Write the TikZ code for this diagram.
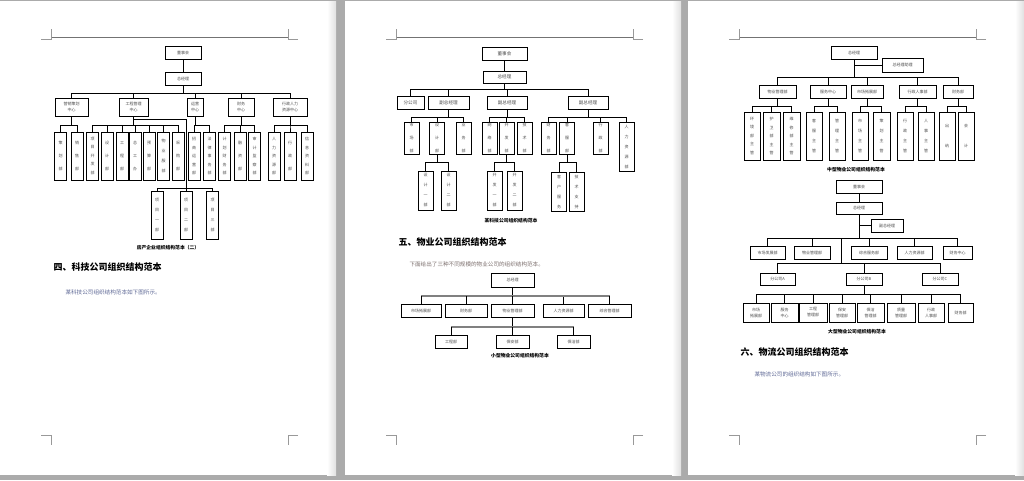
\documentclass[tikz,border=0pt]{standalone}
\usepackage{fontspec}
\setmainfont{Noto Sans CJK SC}
\begin{document}
\begin{tikzpicture}[x=1pt,y=-1pt,
  orgbox/.style={draw=black,line width=.8pt,fill=white,inner sep=0pt,text=black!70,align=center},
  hbox/.style={orgbox,font=\fontsize{4}{6}\selectfont},
  hboxl/.style={orgbox,font=\fontsize{4.6}{6}\selectfont},
  lead2/.style={orgbox,font=\fontsize{4}{20}\selectfont},
  lead3/.style={orgbox,font=\fontsize{4}{13}\selectfont},
  lead4/.style={orgbox,font=\fontsize{4}{10}\selectfont},
  lead5/.style={orgbox,font=\fontsize{4}{8.5}\selectfont},
  lnk/.style={line width=.7pt},
  gbus/.style={draw=black!50,line width=1.3pt},
  caption/.style={font=\bfseries\fontsize{4.8}{5}\selectfont},
  heading/.style={anchor=west,font=\bfseries\fontsize{9}{10}\selectfont},
  bodytext/.style={anchor=west,font=\fontsize{5.6}{6}\selectfont},
  pagemark/.style={draw=black!40,line width=.6pt}]
\useasboundingbox (0,0) rectangle (1024,480);
% pages
\fill[black!33] (0,0) rectangle (1024,480);
\foreach \ox in {0,345,688} {
  \fill[white] (\ox,1) rectangle (\ox+336,475);
  \shade[left color=white,right color=black!12] (\ox+327,1) rectangle (\ox+336,475);
  \draw[pagemark,draw=black!55] (\ox+51,37) -- (\ox+288,37);
  \draw[pagemark] (\ox+41,39) -- (\ox+51,39) -- (\ox+51,29);
  \draw[pagemark] (\ox+298,39) -- (\ox+288,39) -- (\ox+288,29);
  \draw[pagemark] (\ox+41,435) -- (\ox+51,435) -- (\ox+51,445);
  \draw[pagemark] (\ox+298,435) -- (\ox+288,435) -- (\ox+288,445);
}

% page 1
\node[hbox, minimum width=36, minimum height=13] (p1dsh) at (183,52.5) {董事会};
\node[hbox, minimum width=36, minimum height=13] (p1zjl) at (183,78.5) {总经理};
\node[hbox, minimum width=33, minimum height=18] (p1yx) at (71.5,107) {营销策划\\中心};
\node[hbox, minimum width=29, minimum height=18] (p1gc) at (133.5,107) {工程管理\\中心};
\node[hbox, minimum width=16, minimum height=18] (p1yy) at (195,107) {运营\\中心};
\node[hbox, minimum width=26, minimum height=18] (p1cw) at (241,107) {财务\\中心};
\node[hbox, minimum width=34, minimum height=18] (p1xz) at (290,107) {行政人力\\资源中心};
\node[lead3, minimum width=12, minimum height=48] (p1a1) at (60.5,156) {策\\划\\部};
\node[lead3, minimum width=12, minimum height=48] (p1a2) at (77,156) {销\\售\\部};
\node[lead5, minimum width=12, minimum height=48] (p1b1) at (92.5,156) {项\\目\\开\\发\\部};
\node[lead3, minimum width=12, minimum height=48] (p1b2) at (107,156) {设\\计\\部};
\node[lead3, minimum width=12, minimum height=48] (p1b3) at (122,156) {工\\程\\部};
\node[lead3, minimum width=12, minimum height=48] (p1b4) at (135,156) {总\\工\\办};
\node[lead3, minimum width=12, minimum height=48] (p1b5) at (149,156) {预\\算\\部};
\node[lead4, minimum width=12, minimum height=48] (p1b6) at (163.5,156) {物\\业\\服\\部};
\node[lead3, minimum width=12, minimum height=48] (p1b7) at (178,156) {采\\购\\部};
\node[lead5, minimum width=12, minimum height=48] (p1c1) at (194,156) {招\\商\\运\\营\\部};
\node[lead5, minimum width=12, minimum height=48] (p1c2) at (209.5,156) {法\\律\\事\\务\\部};
\node[lead5, minimum width=12, minimum height=48] (p1d1) at (224.5,156) {计\\划\\财\\务\\部};
\node[lead3, minimum width=12, minimum height=48] (p1d2) at (240,156) {融\\资\\部};
\node[lead5, minimum width=12, minimum height=48] (p1d3) at (254.5,156) {审\\计\\监\\察\\部};
\node[lead5, minimum width=12, minimum height=48] (p1e1) at (274,156) {人\\力\\资\\源\\部};
\node[lead3, minimum width=12, minimum height=48] (p1e2) at (290,156) {行\\政\\部};
\node[lead5, minimum width=12, minimum height=48] (p1e3) at (307,156) {信\\息\\资\\料\\部};
\node[lead4, minimum width=12, minimum height=48] (p1f1) at (157,215) {项\\目\\一\\部};
\node[lead4, minimum width=12, minimum height=48] (p1f2) at (186,215) {项\\目\\二\\部};
\node[lead4, minimum width=12, minimum height=48] (p1f3) at (212.5,215) {项\\目\\三\\部};
\coordinate (p1bus) at (0,93);
\coordinate (p1sb) at (0,125);
\coordinate (p1j) at (186,119);
\coordinate (p1lb) at (186,188);
\draw[lnk] (p1dsh) -- (p1zjl);
\foreach \c in {p1yx,p1gc,p1yy,p1cw,p1xz}
  \draw[lnk] (p1zjl.south) -- (p1zjl.south |- p1bus) -| (\c.north);
\foreach \c in {p1a1,p1a2}
  \draw[lnk] (p1yx.south) -- (p1yx.south |- p1sb) -| (\c.north);
\foreach \c in {p1b1,p1b2,p1b3,p1b4,p1b5,p1b6,p1b7}
  \draw[lnk] (p1gc.south) -- (p1gc.south |- p1sb) -| (\c.north);
\foreach \c in {p1c1,p1c2}
  \draw[lnk] (p1yy.south) -- (p1yy.south |- p1sb) -| (\c.north);
\foreach \c in {p1d1,p1d2,p1d3}
  \draw[lnk] (p1cw.south) -- (p1cw.south |- p1sb) -| (\c.north);
\foreach \c in {p1e1,p1e2,p1e3}
  \draw[lnk] (p1xz.south) -- (p1xz.south |- p1sb) -| (\c.north);
\draw[lnk] (p1gc.south) |- (p1j) -- (p1lb);
\foreach \c in {p1f1,p1f2,p1f3}
  \draw[lnk] (p1lb) -| (\c.north);
\node[caption] (p1cap) at (168,248) {房产企业组织结构范本（二）};
\node[heading] (p1h) at (50,267) {四、科技公司组织结构范本};
\node[bodytext, text={rgb,255:red,95;green,105;blue,150}] (p1t) at (62,292) {某科技公司组织结构范本如下图所示。};

% page 2
\node[hboxl, minimum width=45, minimum height=13] (p2dsh) at (504.5,53.5) {董事会};
\node[hboxl, minimum width=43, minimum height=12] (p2zjl) at (504.5,77) {总经理};
\node[hboxl, minimum width=27, minimum height=13] (p2fgs) at (410.5,102.5) {分公司};
\node[hboxl, minimum width=41, minimum height=13] (p2fz1) at (448.5,102.5) {副总经理};
\node[hboxl, minimum width=40, minimum height=13] (p2fz2) at (507,102.5) {副总经理};
\node[hboxl, minimum width=40, minimum height=13] (p2fz3) at (588,102.5) {副总经理};
\node[lead3, minimum width=15, minimum height=32] (p2a1) at (411.5,138) {市\\场\\部};
\node[lead3, minimum width=15, minimum height=32] (p2a2) at (437,138) {设\\计\\部};
\node[lead3, minimum width=15, minimum height=32] (p2a3) at (463.5,138) {业\\务\\部};
\node[lead3, minimum width=15, minimum height=32] (p2b1) at (489.5,138) {网\\络\\部};
\node[lead3, minimum width=15, minimum height=32] (p2b2) at (506.5,138) {开\\发\\部};
\node[lead3, minimum width=15, minimum height=32] (p2b3) at (524.5,138) {技\\术\\部};
\node[lead3, minimum width=15, minimum height=32] (p2c1) at (548.5,138) {财\\务\\部};
\node[lead3, minimum width=15, minimum height=32] (p2c2) at (567,138) {客\\服\\部};
\node[lead3, minimum width=15, minimum height=32] (p2c3) at (600.5,138) {行\\政\\部};
\node[lead4, minimum width=15, minimum height=49] (p2c4) at (626.5,146.5) {人\\力\\资\\源\\部};
\node[lead4, minimum width=15, minimum height=39] (p2d1) at (425.5,190.5) {设\\计\\一\\部};
\node[lead4, minimum width=15, minimum height=39] (p2d2) at (448.5,190.5) {设\\计\\二\\部};
\node[lead4, minimum width=15, minimum height=39] (p2e1) at (494.5,190.5) {开\\发\\一\\部};
\node[lead4, minimum width=15, minimum height=39] (p2e2) at (514.5,190.5) {开\\发\\二\\部};
\node[lead4, minimum width=15, minimum height=39] (p2f1) at (559,191.5) {客\\户\\服\\务};
\node[lead4, minimum width=15, minimum height=39] (p2f2) at (576.5,191.5) {技\\术\\支\\持};
\coordinate (p2bus) at (0,89);
\coordinate (p2sb) at (0,117);
\coordinate (p2sb2) at (0,162);
\draw[lnk] (p2dsh) -- (p2zjl);
\foreach \c in {p2fgs,p2fz1,p2fz2,p2fz3}
  \draw[lnk] (p2zjl.south) -- (p2zjl.south |- p2bus) -| (\c.north);
\foreach \c in {p2a1,p2a2,p2a3}
  \draw[lnk] (p2fz1.south) -- (p2fz1.south |- p2sb) -| (\c.north);
\foreach \c in {p2b1,p2b2,p2b3}
  \draw[lnk] (p2fz2.south) -- (p2fz2.south |- p2sb) -| (\c.north);
\foreach \c in {p2c1,p2c2,p2c3,p2c4}
  \draw[lnk] (p2fz3.south) -- (p2fz3.south |- p2sb) -| (\c.north);
\foreach \c in {p2d1,p2d2}
  \draw[lnk] (p2a2.south) -- (p2a2.south |- p2sb2) -| (\c.north);
\foreach \c in {p2e1,p2e2}
  \draw[lnk] (p2b2.south) -- (p2b2.south |- p2sb2) -| (\c.north);
\foreach \c in {p2f1,p2f2}
  \draw[lnk] (p2c2.south) -- (p2c2.south |- p2sb2) -| (\c.north);
\node[caption] (p2cap) at (511,221) {某科技公司组织结构范本};
\node[heading] (p2h) at (395,242) {五、物业公司组织结构范本};
\node[bodytext, text={rgb,255:red,125;green,112;blue,110}] (p2t) at (406,264) {下面给出了三种不同规模的物业公司的组织结构范本。};
\node[hbox, minimum width=43, minimum height=14] (p2s0) at (512.5,280) {总经理};
\node[hbox, minimum width=40, minimum height=13] (p2s1) at (421,310.5) {市场拓展部};
\node[hbox, minimum width=42, minimum height=13] (p2s2) at (466,310.5) {财务部};
\node[hbox, minimum width=43, minimum height=13] (p2s3) at (512.5,310.5) {物业管理部};
\node[hbox, minimum width=41, minimum height=13] (p2s4) at (563.5,310.5) {人力资源部};
\node[hbox, minimum width=43, minimum height=13] (p2s5) at (609.5,310.5) {综合管理部};
\node[hbox, minimum width=32, minimum height=13] (p2s6) at (451,341.5) {工程部};
\node[hbox, minimum width=33, minimum height=13] (p2s7) at (512.5,341.5) {保安部};
\node[hbox, minimum width=33, minimum height=13] (p2s8) at (573.5,341.5) {保洁部};
\coordinate (p2gb) at (0,296);
\coordinate (p2gb2) at (0,327);
\draw[lnk] (p2s0.south) -- (p2s0.south |- p2gb);
\foreach \c in {p2s1,p2s2,p2s3,p2s4,p2s5} {
  \draw[gbus] (p2s0.south |- p2gb) -- (\c.north |- p2gb);
  \draw[lnk] (\c.north |- p2gb) -- (\c.north);
}
\draw[lnk] (p2s3.south) -- (p2s3.south |- p2gb2);
\foreach \c in {p2s6,p2s7,p2s8} {
  \draw[gbus] (p2s3.south |- p2gb2) -- (\c.north |- p2gb2);
  \draw[lnk] (\c.north |- p2gb2) -- (\c.north);
}
\node[caption] (p2cap2) at (520,356) {小型物业公司组织结构范本};

% page 3
\node[hbox, minimum width=46, minimum height=13] (p3zjl) at (854,52.5) {总经理};
\node[hbox, minimum width=41, minimum height=14] (p3zl) at (902.5,65) {总经理助理};
\node[hbox, minimum width=37, minimum height=13] (p3a) at (777.5,91.5) {物业管理部};
\node[hbox, minimum width=36, minimum height=13] (p3b) at (828,91.5) {服务中心};
\node[hbox, minimum width=32, minimum height=13] (p3c) at (867,91.5) {市场拓展部};
\node[hbox, minimum width=37, minimum height=13] (p3d) at (917.5,91.5) {行政人事部};
\node[hbox, minimum width=30, minimum height=13] (p3e) at (958,91.5) {财务部};
\node[lead5, minimum width=16, minimum height=48] (p3a1) at (752,136) {环\\境\\部\\主\\管};
\node[lead5, minimum width=17, minimum height=48] (p3a2) at (771.5,136) {护\\卫\\部\\主\\管};
\node[lead5, minimum width=17, minimum height=48] (p3a3) at (791.5,136) {维\\修\\部\\主\\管};
\node[lead4, minimum width=16, minimum height=48] (p3b1) at (814,136) {客\\服\\主\\管};
\node[lead4, minimum width=16, minimum height=48] (p3b2) at (837,136) {管\\理\\主\\管};
\node[lead4, minimum width=16, minimum height=48] (p3c1) at (860,136) {市\\场\\主\\管};
\node[lead4, minimum width=17, minimum height=48] (p3c2) at (881.5,136) {策\\划\\主\\管};
\node[lead4, minimum width=16, minimum height=48] (p3d1) at (905,136) {行\\政\\主\\管};
\node[lead4, minimum width=16, minimum height=48] (p3d2) at (926,136) {人\\事\\主\\管};
\node[lead2, minimum width=16, minimum height=48] (p3e1) at (947,136) {出\\纳};
\node[lead2, minimum width=16, minimum height=48] (p3e2) at (966,136) {会\\计};
\coordinate (p3bus) at (0,77);
\coordinate (p3sb) at (0,106);
\draw[lnk] (p3zjl.south) |- (p3zl.west);
\foreach \c in {p3a,p3b,p3c,p3d,p3e}
  \draw[lnk] (p3zjl.south) -- (p3zjl.south |- p3bus) -| (\c.north);
\foreach \c in {p3a1,p3a2,p3a3}
  \draw[lnk] (p3a.south) -- (p3a.south |- p3sb) -| (\c.north);
\foreach \c in {p3b1,p3b2}
  \draw[lnk] (p3b.south) -- (p3b.south |- p3sb) -| (\c.north);
\foreach \c in {p3c1,p3c2}
  \draw[lnk] (p3c.south) -- (p3c.south |- p3sb) -| (\c.north);
\foreach \c in {p3d1,p3d2}
  \draw[lnk] (p3d.south) -- (p3d.south |- p3sb) -| (\c.north);
\foreach \c in {p3e1,p3e2}
  \draw[lnk] (p3e.south) -- (p3e.south |- p3sb) -| (\c.north);
\node[caption] (p3cap1) at (856,170) {中型物业公司组织结构范本};

\node[hbox, minimum width=46, minimum height=13] (p3dsh) at (859,186.5) {董事会};
\node[hbox, minimum width=46, minimum height=12] (p3zjl2) at (859,208) {总经理};
\node[hbox, minimum width=32, minimum height=13] (p3fz) at (887,225.5) {副总经理};
\node[hbox, minimum width=35, minimum height=13] (p3m1) at (767.5,252.5) {市场发展部};
\node[hbox, minimum width=36, minimum height=13] (p3m2) at (812,252.5) {物业管理部};
\node[hbox, minimum width=36, minimum height=13] (p3m3) at (869,252.5) {综合服务部};
\node[hbox, minimum width=35, minimum height=13] (p3m4) at (914.5,252.5) {人力资源部};
\node[hbox, minimum width=29, minimum height=13] (p3m5) at (957.5,252.5) {财务中心};
\node[hbox, minimum width=35, minimum height=12] (p3f1) at (777.5,279) {分公司A};
\node[hbox, minimum width=36, minimum height=12] (p3f2) at (864,279) {分公司B};
\node[hbox, minimum width=36, minimum height=12] (p3f3) at (940,279) {分公司C};
\node[hbox, minimum width=26, minimum height=19] (p3g1) at (756,312.5) {市场\\拓展部};
\node[hbox, minimum width=27, minimum height=19] (p3g2) at (784.5,312.5) {服务\\中心};
\node[hbox, minimum width=28, minimum height=19] (p3g3) at (813,312.5) {工程\\管理部};
\node[hbox, minimum width=26, minimum height=19] (p3g4) at (842,312.5) {保安\\管理部};
\node[hbox, minimum width=27, minimum height=19] (p3g5) at (870.5,312.5) {保洁\\管理部};
\node[hbox, minimum width=28, minimum height=19] (p3g6) at (901,312.5) {质量\\管理部};
\node[hbox, minimum width=26, minimum height=19] (p3g7) at (931,312.5) {行政\\人事部};
\node[hbox, minimum width=25, minimum height=19] (p3g8) at (960.5,312.5) {财务部};
\coordinate (p3bus2) at (0,238);
\coordinate (p3k) at (841,238);
\coordinate (p3kb) at (841,263);
\coordinate (p3bus3) at (0,294);
\draw[lnk] (p3dsh) -- (p3zjl2);
\draw[lnk] (p3zjl2.south) |- (p3fz.west);
\foreach \c in {p3m1,p3m2,p3m3,p3m4,p3m5}
  \draw[lnk] (p3zjl2.south) -- (p3zjl2.south |- p3bus2) -| (\c.north);
\draw[lnk] (p3k) -- (p3kb);
\foreach \c in {p3f1,p3f2,p3f3}
  \draw[lnk] (p3kb) -| (\c.north);
\foreach \c in {p3g1,p3g2,p3g3,p3g4,p3g5,p3g6,p3g7,p3g8}
  \draw[lnk] (p3f2.south) -- (p3f2.south |- p3bus3) -| (\c.north);
\node[caption] (p3cap2) at (857,332) {大型物业公司组织结构范本};
\node[heading] (p3h) at (737,352) {六、物流公司组织结构范本};
\node[bodytext, text={rgb,255:red,95;green,105;blue,150}] (p3t) at (751,374) {某物流公司的组织结构如下图所示。};
\end{tikzpicture}
\end{document}
